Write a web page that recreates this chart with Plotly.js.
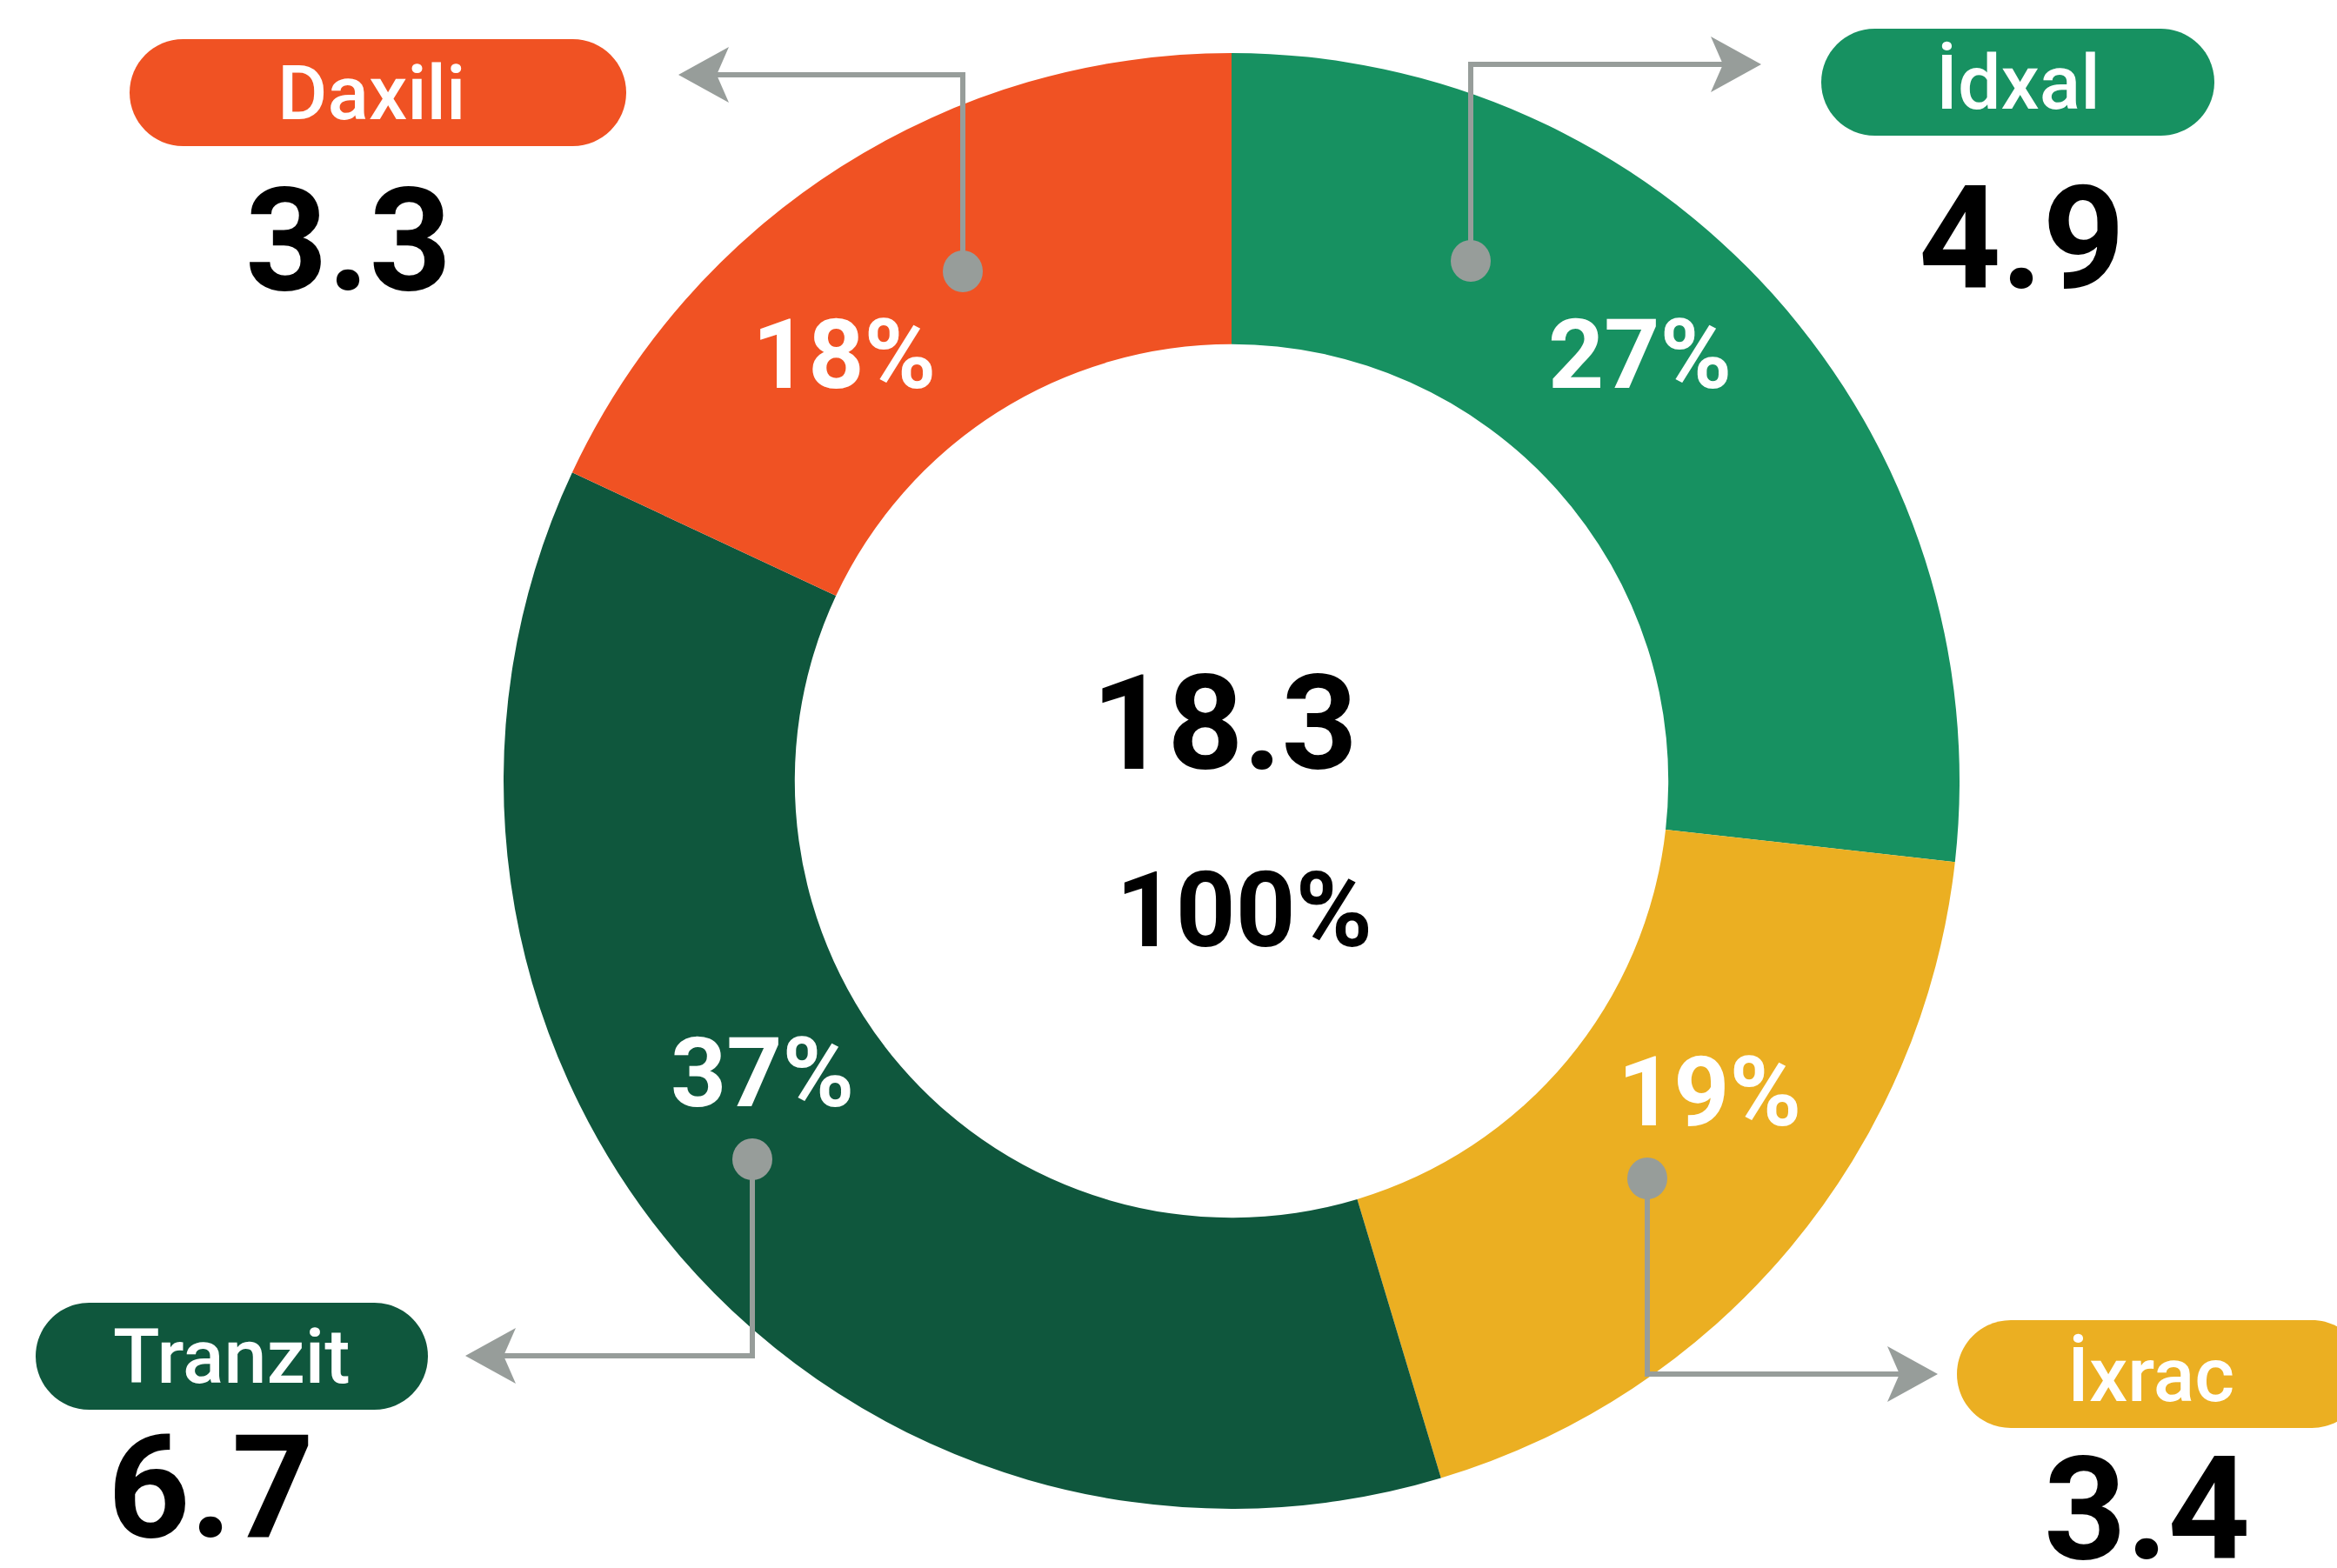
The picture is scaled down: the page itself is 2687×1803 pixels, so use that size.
<!DOCTYPE html>
<html>
<head>
<meta charset="utf-8">
<script src="https://cdn.plot.ly/plotly-3.0.1.min.js"></script>
<style>html,body{margin:0;padding:0;background:#fff;}#chart{width:2687px;height:1803px;}</style>
</head>
<body>
<div id="chart"></div>
<script>
// ---- data ----
const categories = ['İdxal', 'İxrac', 'Tranzit', 'Daxili'];
const values = [4.9, 3.4, 6.7, 3.3];
const colors = ['#179161', '#EBAF22', '#0F573D', '#F05223'];
const totalLabel = '18.3';

// ---- layout helpers (pixel -> paper) ----
const W = 2687, H = 1803;
const px = x => x / W;
const py = y => 1 - y / H;
const total = values.reduce((a, b) => a + b, 0);
const FONT = 'Roboto, sans-serif';

// positions per category (pixels)
const pos = {
  'İdxal':  {pill:[2094,2546,33,156],  val:[2324,275],  pct:[1885,407],  dot:[1691,300],  corner:[1691,74],   tip:[2025,74],   dir:1},
  'İxrac':  {pill:[2250,2720,1518,1642], val:[2468,1735], pct:[1966,1255], dot:[1894,1355], corner:[1894,1580], tip:[2228,1580], dir:1},
  'Tranzit':{pill:[41,492,1498,1621],  val:[242,1710],  pct:[877,1233],  dot:[865,1333],  corner:[865,1559],  tip:[535,1559],  dir:-1},
  'Daxili': {pill:[149,720,45,168],    val:[400,277],   pct:[970,407],   dot:[1107,312],  corner:[1107,86],   tip:[780,86],    dir:-1}
};

const gray = '#979D9A';
const shapes = [];
const annotations = [];

function pillPath(x0, x1, y0, y1) {
  const r = (y1 - y0) / 2;
  const k = 0.5523 * r;
  const P = (x, y) => px(x) + ',' + py(y);
  return 'M' + P(x0 + r, y0) + ' L' + P(x1 - r, y0) +
    ' C' + P(x1 - r + k, y0) + ' ' + P(x1, y0 + r - k) + ' ' + P(x1, y0 + r) +
    ' C' + P(x1, y0 + r + k) + ' ' + P(x1 - r + k, y1) + ' ' + P(x1 - r, y1) +
    ' L' + P(x0 + r, y1) +
    ' C' + P(x0 + r - k, y1) + ' ' + P(x0, y0 + r + k) + ' ' + P(x0, y0 + r) +
    ' C' + P(x0, y0 + r - k) + ' ' + P(x0 + r - k, y0) + ' ' + P(x0 + r, y0) + ' Z';
}

categories.forEach((c, i) => {
  const p = pos[c];
  // pill
  shapes.push({type:'path', xref:'paper', yref:'paper', path: pillPath(...p.pill),
    fillcolor: colors[i], line:{width:0}, layer:'above'});
  annotations.push({xref:'paper', yref:'paper', x: px((p.pill[0]+p.pill[1])/2 - (c==='Daxili'?8:0) - (c==='İxrac'?12:0)), y: py((p.pill[2]+p.pill[3])/2),
    text: c, showarrow:false, xanchor:'center', yanchor:'middle',
    font:{family:FONT, size:88, color:'#ffffff', weight:500}});
  // value
  annotations.push({xref:'paper', yref:'paper', x: px(p.val[0]), y: py(p.val[1]),
    text: values[i].toFixed(1), showarrow:false, xanchor:'center', yanchor:'middle',
    font:{family:FONT, size:165, color:'#000000', weight:700}});
  // percent
  annotations.push({xref:'paper', yref:'paper', x: px(p.pct[0]), y: py(p.pct[1]),
    text: Math.round(values[i] / total * 100) + '%', showarrow:false, xanchor:'center', yanchor:'middle',
    font:{family:FONT, size:112, color:'#ffffff', weight:700}});
  // connector line
  shapes.push({type:'path', xref:'paper', yref:'paper',
    path: 'M' + px(p.dot[0]) + ',' + py(p.dot[1]) + ' L' + px(p.corner[0]) + ',' + py(p.corner[1]) +
          ' L' + px(p.tip[0] - p.dir * 36) + ',' + py(p.tip[1]),
    line:{color: gray, width:6}, layer:'above'});
  // arrowhead (barbed)
  const d = p.dir, tx = p.tip[0], ty = p.tip[1];
  shapes.push({type:'path', xref:'paper', yref:'paper',
    path: 'M' + px(tx) + ',' + py(ty) +
          ' L' + px(tx - d*58) + ',' + py(ty - 32) +
          ' L' + px(tx - d*44) + ',' + py(ty) +
          ' L' + px(tx - d*58) + ',' + py(ty + 32) + ' Z',
    fillcolor: gray, line:{width:0}, layer:'above'});
  // dot
  shapes.push({type:'circle', xref:'paper', yref:'paper',
    x0: px(p.dot[0] - 23), x1: px(p.dot[0] + 23), y0: py(p.dot[1] - 24), y1: py(p.dot[1] + 24),
    fillcolor: gray, line:{width:0}, layer:'above'});
});

// centre texts
annotations.push({xref:'paper', yref:'paper', x: px(1408), y: py(832), text: totalLabel, showarrow:false,
  xanchor:'center', yanchor:'middle', font:{family:FONT, size:152, color:'#000000', weight:700}});
annotations.push({xref:'paper', yref:'paper', x: px(1431), y: py(1047), text: '100%', showarrow:false,
  xanchor:'center', yanchor:'middle', font:{family:FONT, size:120, color:'#000000', weight:700}});

const cx = 1416, cyTop = 898, R = 837;
const trace = {
  type:'pie', values: values, labels: categories,
  marker:{colors: colors, line:{width:0}},
  sort:false, direction:'clockwise', rotation:0, hole:0.6,
  textinfo:'none', hoverinfo:'label+value+percent',
  domain:{x:[px(cx - R), px(cx + R)], y:[py(cyTop + R), py(cyTop - R)]},
  showlegend:false
};

Plotly.newPlot('chart', [trace], {
  width: W, height: H, margin:{l:0, r:0, t:0, b:0},
  paper_bgcolor:'#ffffff', plot_bgcolor:'#ffffff',
  showlegend:false, shapes: shapes, annotations: annotations
}, {displayModeBar:false, staticPlot:true});
</script>
</body>
</html>
